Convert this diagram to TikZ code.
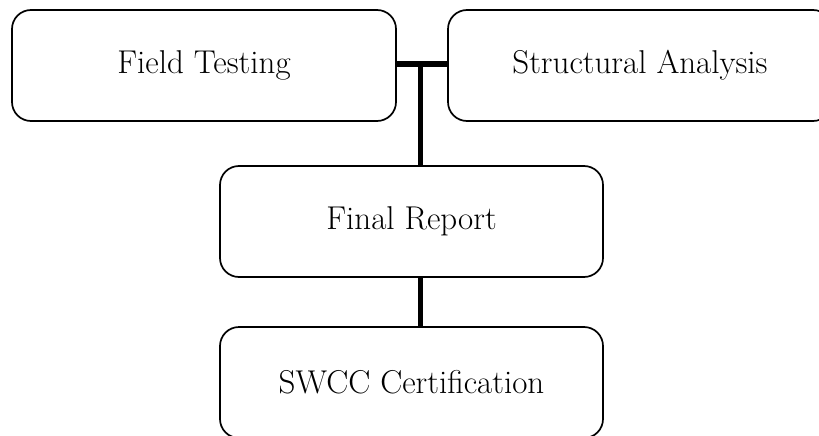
\documentclass[tikz,border=0pt]{standalone}
\begin{document}
\begin{tikzpicture}[x=1pt,y=-1pt,
  box/.style={draw=black, line width=1.7pt, rounded corners=19pt, fill=white,
    font=\fontsize{33}{38}\selectfont, inner sep=0pt},
  link/.style={draw=black, line width=5.5pt}]
\useasboundingbox (0,0) rectangle (819,436);
\node[box, minimum width=384pt, minimum height=111pt] (ft) at (204,65.5) {Field Testing};
\node[box, minimum width=384pt, minimum height=111pt] (sa) at (640,65.5) {Structural Analysis};
\node[box, minimum width=383pt, minimum height=111pt] (fr) at (411.5,221.5) {Final Report};
\node[box, minimum width=383pt, minimum height=111pt] (sw) at (411.5,382.5) {SWCC Certification};
\coordinate (j) at (420.5,64);
\draw[link] (ft.east |- j) -- (sa.west |- j);
\draw[link] (j) -- (j |- fr.north);
\draw[link] (j |- fr.south) -- (j |- sw.north);
\end{tikzpicture}
\end{document}
